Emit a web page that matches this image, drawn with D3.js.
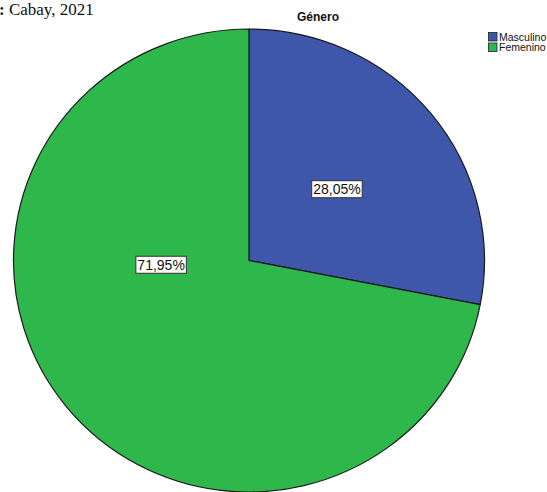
<!DOCTYPE html>
<html>
<head>
<meta charset="utf-8">
<script src="https://cdn.jsdelivr.net/npm/d3@7/dist/d3.min.js"></script>
<style>
  html, body { margin: 0; padding: 0; background: #fff; overflow: hidden; }
  svg { display: block; }
</style>
</head>
<body>
<svg id="chart" width="547" height="492"></svg>
<script>
// Gender distribution (percent of respondents)
const categories = ["Masculino", "Femenino"];
const percents = [28.05, 71.95];
const colors = ["#3f57ab", "#2eb84c"];
const title = "Género";
const source = "Cabay, 2021";

const svg = d3.select("#chart");

// Source caption, Times style
const cap = svg.append("text")
  .attr("x", -1).attr("y", 15)
  .attr("font-family", "'Liberation Serif', 'Times New Roman', serif")
  .attr("font-size", 17).attr("fill", "#111");
cap.append("tspan").attr("font-weight", "bold").text(":");
cap.append("tspan").text(" " + source);

// Chart title
svg.append("text")
  .attr("x", 318).attr("y", 21)
  .attr("text-anchor", "middle")
  .attr("font-family", "Arial, 'Liberation Sans', sans-serif")
  .attr("font-weight", "bold").attr("font-size", 12)
  .attr("fill", "#111").text(title);

// Pie
const cx = 249, cy = 260.5, rx = 235.5, ry = 231.5;
const pie = d3.pie().sort(null).value(d => d)(percents);
const arc = d3.arc().innerRadius(0).outerRadius(rx);

const g = svg.append("g")
  .attr("transform", `translate(${cx},${cy}) scale(1,${ry / rx})`);

g.selectAll("path.slice")
  .data(pie)
  .join("path")
  .attr("class", "slice")
  .attr("d", arc)
  .attr("fill", (d, i) => colors[i])
  .attr("stroke", "#1a1a1a")
  .attr("stroke-width", 1.2)
  .attr("stroke-linejoin", "round");

// Value labels in boxed callouts
const fmt = v => v.toFixed(2).replace(".", ",") + "%";
// label anchor: angle (radians clockwise from top) and radius for each slice
const labelAngle = [d => (d.startAngle + d.endAngle) / 2, d => -1.62];
const labelRadius = [114, 88];

const labels = svg.append("g");
pie.forEach((d, i) => {
  const a = labelAngle[i](d);
  const x = cx + Math.sin(a) * labelRadius[i];
  const y = cy - Math.cos(a) * labelRadius[i] * (ry / rx);
  const lg = labels.append("g").attr("transform", `translate(${x},${y})`);
  const t = lg.append("text")
    .attr("text-anchor", "middle")
    .attr("dominant-baseline", "central")
    .attr("font-family", "Arial, 'Liberation Sans', sans-serif")
    .attr("font-size", 14)
    .attr("fill", "#111")
    .text(fmt(percents[i]));
  const bb = t.node().getBBox();
  lg.insert("rect", "text")
    .attr("x", bb.x - 1.5).attr("y", bb.y - 0.5)
    .attr("width", bb.width + 3).attr("height", bb.height + 1)
    .attr("fill", "#fff").attr("stroke", "#333").attr("stroke-width", 1);
});

// Legend
const leg = svg.append("g").attr("transform", "translate(488,32)");
categories.forEach((c, i) => {
  const row = leg.append("g").attr("transform", `translate(0,${i * 10.5})`);
  row.append("rect")
    .attr("x", 0.5).attr("y", 0.5).attr("width", 8.5).attr("height", 8.5)
    .attr("fill", colors[i]).attr("stroke", "#222").attr("stroke-width", 0.8);
  row.append("text")
    .attr("x", 11).attr("y", 8.5)
    .attr("font-family", "Arial, 'Liberation Sans', sans-serif")
    .attr("font-size", 10.5).attr("fill", "#111").text(c);
});
</script>
</body>
</html>
